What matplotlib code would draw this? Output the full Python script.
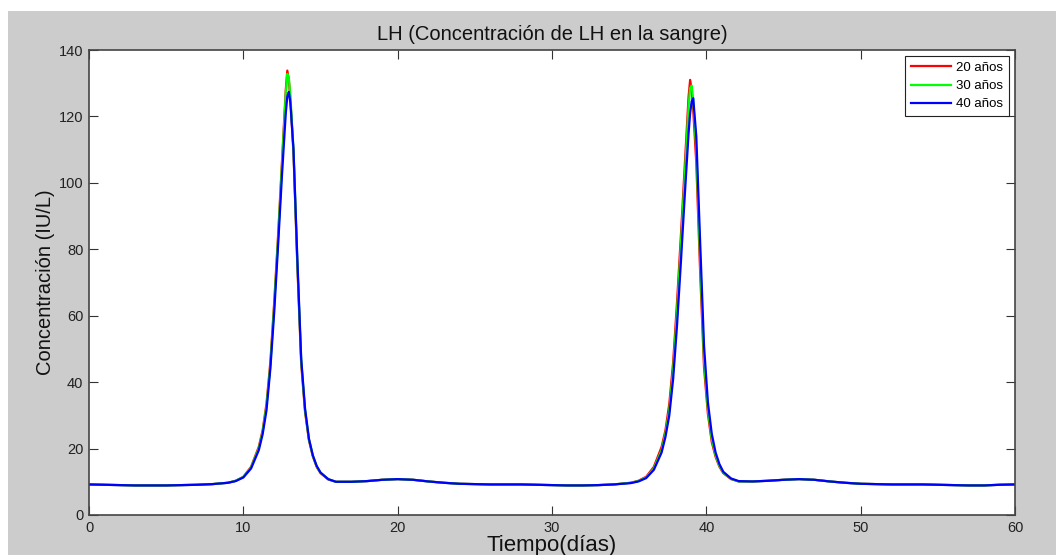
import matplotlib
matplotlib.use('Agg')
import matplotlib.pyplot as plt
from matplotlib.patches import Rectangle

plt.rcParams['font.family'] = ['Liberation Sans', 'DejaVu Sans']

# tiempo (días)
dias = [0, 1, 2, 3, 4, 5, 6, 7, 8,
        9, 9.5, 10, 10.5, 11, 11.25, 11.5, 11.75, 12, 12.25, 12.5, 12.75, 12.85,
        12.95, 13.05, 13.25, 13.5, 13.75, 14, 14.25, 14.5, 14.75, 15, 15.5, 16,
        17, 18, 19, 20, 21, 22, 23, 24, 25, 26, 27, 28, 29, 30, 31, 32, 33, 34,
        35.1, 35.6, 36.1, 36.6, 37.1, 37.35, 37.6, 37.85, 38.1, 38.35, 38.6, 38.85,
        38.95, 39.05, 39.15, 39.35, 39.6, 39.85, 40.1, 40.35, 40.6, 40.85, 41.1,
        41.6, 42.1,
        43, 44, 45, 46, 47, 48, 49, 50, 51, 52, 53, 54, 55, 56, 57, 58, 59, 60]

# concentración de LH (IU/L) por edad
lh_20 = [9.2, 9.1, 9.0, 8.9, 8.9, 8.9, 9.0, 9.1, 9.3,
         9.7, 10.3, 11.5, 14.5, 20.5, 25.5, 33.5, 46, 64, 84, 106, 128, 133.8,
         131, 125, 109, 75, 45.5, 31, 22.5, 17.7, 14.5, 12.6, 10.7, 10.0,
         10.0, 10.2, 10.6, 10.8, 10.6, 10.1, 9.7, 9.4, 9.3, 9.2, 9.2, 9.2, 9.1, 9.0, 8.9, 8.9, 9.0, 9.2,
         9.7, 10.3, 11.5, 14.5, 20.5, 25.5, 33.5, 46, 64, 84, 105, 126,
         131, 128, 122, 106, 73, 44.5, 30.5, 22, 17.5, 14.5, 12.6,
         10.8, 10.1,
         10.1, 10.3, 10.6, 10.8, 10.6, 10.1, 9.7, 9.4, 9.3, 9.2, 9.2, 9.2, 9.1, 9.0, 8.9, 8.9, 9.1, 9.2]

lh_30 = [9.2, 9.1, 9.0, 8.9, 8.9, 8.9, 9.0, 9.1, 9.3,
         9.7, 10.3, 11.4, 14.3, 20.0, 25.0, 32.8, 45, 63, 83, 105, 127, 132.8,
         131.5, 126, 110, 76, 46.5, 31.5, 22.8, 17.9, 14.6, 12.7, 10.8, 10.0,
         10.0, 10.2, 10.6, 10.8, 10.6, 10.1, 9.7, 9.4, 9.3, 9.2, 9.2, 9.2, 9.1, 9.0, 8.9, 8.9, 9.0, 9.2,
         9.7, 10.2, 11.3, 14.0, 19.5, 24.5, 31.5, 43.5, 61, 81, 102, 123,
         128.5, 129.3, 125, 110, 77, 47, 32, 23, 18, 14.8, 12.8,
         10.9, 10.1,
         10.1, 10.3, 10.6, 10.8, 10.6, 10.1, 9.7, 9.4, 9.3, 9.2, 9.2, 9.2, 9.1, 9.0, 8.9, 8.9, 9.1, 9.2]

lh_40 = [9.2, 9.1, 9.0, 8.9, 8.9, 8.9, 9.0, 9.1, 9.3,
         9.7, 10.2, 11.3, 14.0, 19.5, 24.3, 31.5, 44, 61, 81, 102, 121, 126,
         127.4, 124, 110, 77, 47, 32, 23, 18, 14.8, 12.8, 10.8, 10.0,
         10.0, 10.2, 10.6, 10.8, 10.6, 10.1, 9.7, 9.4, 9.3, 9.2, 9.2, 9.2, 9.1, 9.0, 8.9, 8.9, 9.0, 9.2,
         9.6, 10.1, 11.1, 13.6, 18.8, 23.5, 30, 41, 57, 76, 96, 115,
         121, 124.5, 125.5, 114, 82, 51, 34, 24.5, 18.8, 15.3, 13.0,
         11.0, 10.2,
         10.1, 10.3, 10.6, 10.8, 10.6, 10.1, 9.7, 9.4, 9.3, 9.2, 9.2, 9.2, 9.1, 9.0, 8.9, 8.9, 9.1, 9.2]

edades = ['20 años', '30 años', '40 años']
colores = ['#ff0000', '#00ff00', '#0000ff']

fig = plt.figure(figsize=(10.56, 5.55), dpi=100, facecolor='white')
# gray window background
fig.patches.append(Rectangle((8 / 1056, 0), 1 - 8 / 1056, (555 - 11) / 555,
                             transform=fig.transFigure, fc='#cccccc', ec='none', zorder=-10))

ax = fig.add_axes([89 / 1056, 40 / 555, 926 / 1056, 465 / 555])
ax.set_facecolor('white')

for serie, color, nombre in zip([lh_20, lh_30, lh_40], colores, edades):
    ax.plot(dias, serie, color=color, lw=1.6, label=nombre)

ax.set_xlim(0, 60)
ax.set_ylim(0, 140)
ax.set_xticks(range(0, 61, 10))
ax.set_yticks(range(0, 141, 20))
ax.tick_params(direction='in', length=6.5, width=0.8, color='#333333',
               top=True, right=True, labelsize=10.5, labelcolor='#222222', pad=4)
for sp in ax.spines.values():
    sp.set_color('#444444')
    sp.set_linewidth(1.2)

ax.set_title('LH (Concentración de LH en la sangre)', fontsize=14.5, pad=7, color='#111111')
ax.set_xlabel('Tiempo(días)', fontsize=16, labelpad=0, color='#111111')
ax.set_ylabel('Concentración (IU/L)', fontsize=14.5, labelpad=3, color='#111111')

leg = ax.legend(loc='upper right', fontsize=9.5, fancybox=False, framealpha=1,
                edgecolor='#222222', handlelength=3.0, handletextpad=0.4,
                borderaxespad=0.45, labelspacing=0.45, borderpad=0.45)
leg.get_frame().set_linewidth(0.8)

fig.savefig('out.png', dpi=100, facecolor=fig.get_facecolor())
